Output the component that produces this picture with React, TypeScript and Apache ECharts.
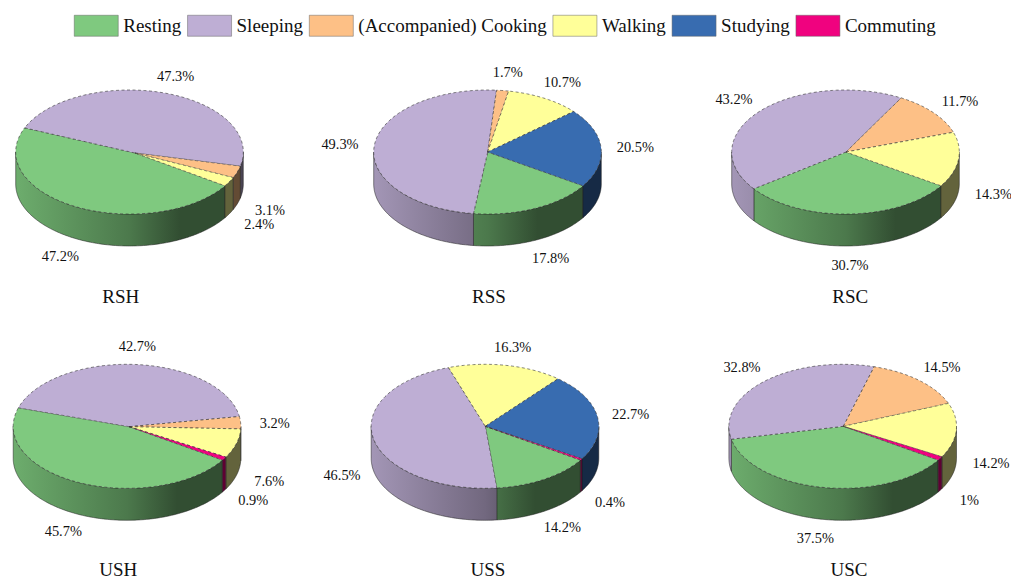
import React, { useEffect, useRef } from "react";
import * as echarts from "echarts";

// Activity shares (%) for each of the six surveyed groups
const groups = ["RSH", "RSS", "RSC", "USH", "USS", "USC"];
const categories = ["Resting", "Sleeping", "(Accompanied) Cooking", "Walking", "Studying", "Commuting"];
const resting = [47.2, 17.8, 30.7, 45.7, 14.2, 37.5];
const sleeping = [47.3, 49.3, 43.2, 42.7, 46.5, 32.8];
const cooking = [3.1, 1.7, 11.7, 3.2, 0, 14.5];
const walking = [2.4, 10.7, 14.3, 7.6, 16.3, 14.2];
const studying = [0, 20.5, 0, 0, 22.7, 0];
const commuting = [0, 0, 0, 0.9, 0.4, 1];
const shares = [resting, sleeping, cooking, walking, studying, commuting];
const colors = ["#7fc97f", "#beaed4", "#fdc086", "#ffff99", "#386cb0", "#f0027f"];

// Pie geometry in pixels
const RX = 113.8;
const RY = 62;
const DEPTH = 32;
const START_DEG = 123; // clockwise from 12 o'clock, where Resting begins
const centers = [
  [129.5, 152], [487.5, 152], [845.5, 152],
  [127, 426.3], [485, 426.3], [842.7, 426.3],
];
const apexShift = [
  [5.5, 1], [0.2, 0], [0.5, 0],
  [2.3, 0.4], [0.3, 0], [0.7, 0],
];
const titlePos = [
  [120.7, 296.7], [489, 296.7], [850.3, 296.7],
  [118.3, 569], [488, 569], [849, 569],
];

type Pt = [number, number] | null;
// Hand-placed percentage labels, one row per activity, one column per group
const labelPos: Pt[][] = [
  [[60.3, 256], [550.7, 257.7], [850, 265], [63.3, 531], [562.3, 527.3], [815.3, 538]],
  [[175.7, 76], [340, 144], [734, 99.3], [137.3, 345.7], [342, 475], [742, 367.3]],
  [[270, 209.5], [507.7, 72.3], [960, 100.7], [274.7, 422.7], null, [942, 366.7]],
  [[259.3, 224], [562.3, 82.3], [993.3, 194.3], [269.3, 481], [512.7, 347.3], [991, 463.3]],
  [null, [635.3, 146.7], null, null, [630.7, 414.3], null],
  [null, null, null, [253.3, 500.3], [610, 501.7], [969.3, 500.3]],
];

const SERIF = '"Liberation Serif", "Times New Roman", serif';

function shade(hex: string, k: number): string {
  const n = parseInt(hex.slice(1), 16);
  const c = [(n >> 16) & 255, (n >> 8) & 255, n & 255].map((v) => Math.round(v * k));
  return `rgb(${c[0]},${c[1]},${c[2]})`;
}

// Point on the top ellipse for an angle measured clockwise from 12 o'clock
function rim(cx: number, cy: number, deg: number): [number, number] {
  const a = (deg * Math.PI) / 180;
  return [cx + RX * Math.sin(a), cy - RY * Math.cos(a)];
}

function arc(cx: number, cy: number, from: number, to: number): [number, number][] {
  const n = Math.max(2, Math.ceil(Math.abs(to - from)));
  const out: [number, number][] = [];
  for (let i = 0; i <= n; i++) out.push(rim(cx, cy, from + ((to - from) * i) / n));
  return out;
}

function sliceRange(cat: number, pie: number): [number, number] {
  const total = shares.reduce((s, arr) => s + arr[pie], 0);
  let acc = 0;
  for (let i = 0; i < cat; i++) acc += shares[i][pie];
  const a0 = START_DEG + (acc / total) * 360;
  return [a0, a0 + (shares[cat][pie] / total) * 360];
}

const makeRender = (cat: number) => (_params: any, api: any) => {
  const pie = api.value(0);
  const value = api.value(1);
  if (!value) return null;
  const [cx, cy] = centers[pie];
  const [a0, a1] = sliceRange(cat, pie);
  const children: any[] = [];

  // Side wall: only the stretch of rim that faces the viewer
  for (const [lo, hi] of [[90, 270], [450, 630]]) {
    const from = Math.max(a0, lo);
    const to = Math.min(a1, hi);
    if (to <= from) continue;
    const upper = arc(cx, cy, from, to);
    const lower = upper.map(([x, y]) => [x, y + DEPTH]).reverse();
    const left = cx - RX;
    children.push({
      type: "polygon",
      shape: { points: [...upper, ...lower] },
      style: {
        fill: new echarts.graphic.LinearGradient(left, 0, left + 2 * RX, 0, [
          { offset: 0, color: shade(colors[cat], 0.86) },
          { offset: 0.5, color: shade(colors[cat], 0.6) },
          { offset: 0.72, color: shade(colors[cat], 0.39) },
          { offset: 1, color: shade(colors[cat], 0.39) },
        ], true),
        stroke: "#1c1c1c",
        lineWidth: 0.5,
      },
    });
  }

  // Top face
  const ax = cx + apexShift[pie][0];
  const ay = cy + apexShift[pie][1];
  children.push({
    type: "polygon",
    shape: { points: [[ax, ay], ...arc(cx, cy, a0, a1)] },
    style: {
      fill: colors[cat],
      stroke: "#333",
      lineWidth: 0.6,
      lineDash: [3, 2.5],
    },
  });

  // Percentage label
  const pos = labelPos[cat][pie];
  if (pos) {
    children.push({
      type: "text",
      x: pos[0],
      y: pos[1],
      style: {
        text: `${value}%`,
        fill: "#111",
        font: `14.4px ${SERIF}`,
        textAlign: "center",
        textVerticalAlign: "middle",
      },
    });
  }
  return { type: "group", children };
};

export default function App() {
  const ref = useRef<HTMLDivElement>(null);

  useEffect(() => {
    document.body.style.margin = "0";
    const chart = echarts.init(ref.current!, undefined, { renderer: "svg" });
    chart.setOption({
      animation: false,
      backgroundColor: "#fff",
      legend: {
        left: 74,
        top: 15,
        padding: 0,
        itemWidth: 44,
        itemHeight: 21,
        itemGap: 6,
        icon: "rect",
        data: categories,
        selectedMode: false,
        itemStyle: { borderColor: "#666", borderWidth: 0.5 },
        textStyle: { fontFamily: SERIF, fontSize: 19, color: "#111" },
      },
      graphic: groups.map((name, i) => ({
        type: "text",
        x: titlePos[i][0],
        y: titlePos[i][1],
        style: {
          text: name,
          fill: "#111",
          font: `19px ${SERIF}`,
          textAlign: "center",
          textVerticalAlign: "middle",
        },
      })),
      series: categories.map((name, c) => ({
        type: "custom",
        name,
        coordinateSystem: "none",
        itemStyle: { color: colors[c] },
        renderItem: makeRender(c),
        data: shares[c].map((v, p) => [p, v]),
      })),
    });
    return () => chart.dispose();
  }, []);

  return <div ref={ref} style={{ width: 1011, height: 579 }} />;
}
